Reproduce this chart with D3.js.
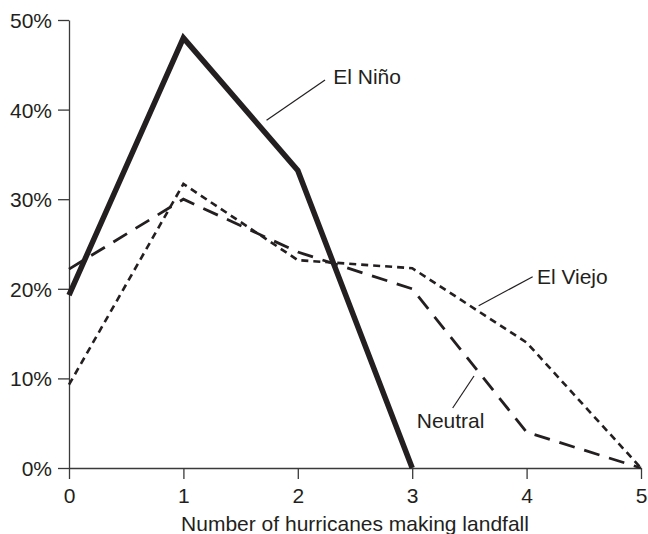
<!DOCTYPE html>
<html>
<head>
<meta charset="utf-8">
<script src="https://cdn.jsdelivr.net/npm/d3@7"></script>
<style>
	body { margin: 0; background: #fff; }
	text { font-family: "Liberation Sans", Arial, sans-serif; fill: #231f20; }
</style>
</head>
<body>
<div id="chart"></div>
<script>
// number of landfalling hurricanes
var counts = [0, 1, 2, 3, 4, 5];
var yTicks = [0, 10, 20, 30, 40, 50];

// percent of seasons
var elNino = [19.3, 48, 33.2, 0];
var neutral = [22.2, 30, 24.1, 20, 4, 0];
var elViejo = [9.3, 31.7, 23.2, 22.3, 14, 0];

// label positions in data units: [textX, textY, lineX1, lineY1, lineX2, lineY2]
var labelNames = ['El Niño', 'El Viejo', 'Neutral'];
var labelSpots = [
	[2.31, 42.9, 1.727, 38.8, 2.238, 43.3],
	[4.09, 20.5, 3.581, 18.1, 4.053, 21.35],
	[3.04, 4.5, 3.354, 6.7, 3.54, 10.27]
];

var W = 648, H = 534;
var margin = {top: 20, right: 7, bottom: 66, left: 69};

var svg = d3.select('#chart').append('svg').attr('width', W).attr('height', H);

var xScale = d3.scaleLinear()
	.domain([0, 5])
	.range([margin.left, W - margin.right]);

var yScale = d3.scaleLinear()
	.domain([0, 50])
	.range([H - margin.bottom, margin.top]);

// Define the axes
var xAxis = d3.axisBottom(xScale)
	.tickValues(counts)
	.tickFormat(d3.format('d'))
	.tickSize(11)
	.tickPadding(9)
	.tickSizeOuter(0);

var yAxis = d3.axisLeft(yScale)
	.tickValues(yTicks)
	.tickFormat(function(d) { return d + '%'; })
	.tickSize(11)
	.tickPadding(6)
	.tickSizeOuter(0);

var gx = svg.append('g')
	.attr('transform', 'translate(0,' + yScale(0) + ')')
	.call(xAxis);

var gy = svg.append('g')
	.attr('transform', 'translate(' + xScale(0) + ',0)')
	.call(yAxis);

[gx, gy].forEach(function(g) {
	g.attr('font-size', null).attr('font-family', null);
	g.selectAll('path, line').attr('stroke', '#3a3a3a').attr('stroke-width', 1.3);
	g.selectAll('text').style('font-size', '21px');
});
gy.selectAll('text').attr('dy', '0.36em');

// Axis title
svg.append('text')
	.attr('x', (xScale(0) + xScale(5)) / 2)
	.attr('y', 531)
	.attr('text-anchor', 'middle')
	.style('font-size', '21px')
	.text('Number of hurricanes making landfall');

// Define the line
var valueline = d3.line()
	.x(function(d, i) { return xScale(counts[i]); })
	.y(function(d) { return yScale(d); });

var series = [
	{values: elViejo, width: 2.6, dash: '7,5'},
	{values: neutral, width: 2.8, dash: '16,10'},
	{values: elNino, width: 5.5, dash: null}
];

svg.selectAll('path.line')
	.data(series)
	.enter()
	.append('path')
	.attr('class', 'line')
	.attr('d', function(d) { return valueline(d.values); })
	.attr('fill', 'none')
	.attr('stroke', '#231f20')
	.attr('stroke-width', function(d) { return d.width; })
	.attr('stroke-dasharray', function(d) { return d.dash; })
	.attr('stroke-linejoin', 'miter');

// Labels with leader lines
svg.selectAll('line.leader')
	.data(labelSpots)
	.enter()
	.append('line')
	.attr('class', 'leader')
	.attr('x1', function(d) { return xScale(d[2]); })
	.attr('y1', function(d) { return yScale(d[3]); })
	.attr('x2', function(d) { return xScale(d[4]); })
	.attr('y2', function(d) { return yScale(d[5]); })
	.attr('stroke', '#231f20')
	.attr('stroke-width', 1.2);

svg.selectAll('text.label')
	.data(labelSpots)
	.enter()
	.append('text')
	.attr('class', 'label')
	.attr('x', function(d) { return xScale(d[0]); })
	.attr('y', function(d) { return yScale(d[1]); })
	.style('font-size', '21px')
	.text(function(d, i) { return labelNames[i]; });
</script>
</body>
</html>
